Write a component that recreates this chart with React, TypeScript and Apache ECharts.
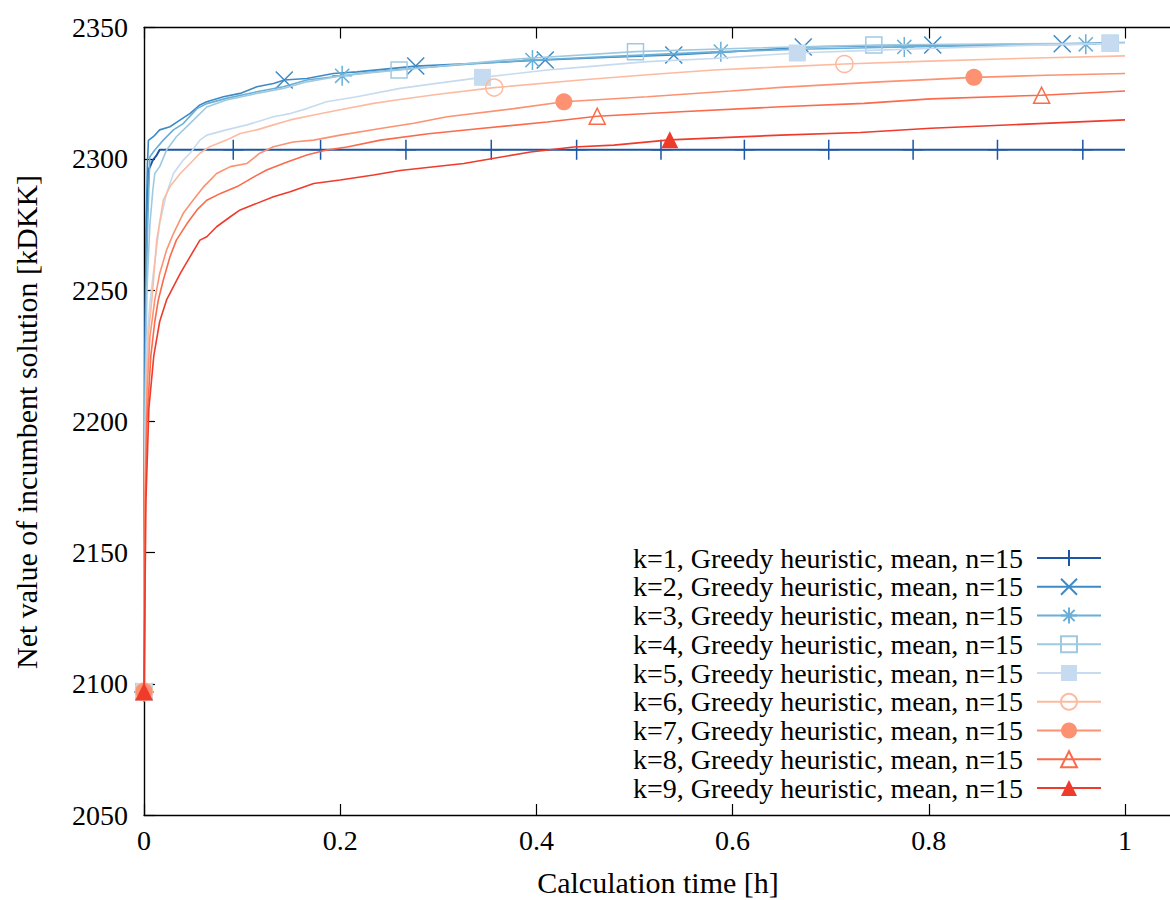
import React, { useEffect, useRef } from 'react';
import * as echarts from 'echarts';

// ---- axis ticks ----
const xTickValues = [0, 0.2, 0.4, 0.6, 0.8, 1];
const yTickValues = [2050, 2100, 2150, 2200, 2250, 2300, 2350];

const seriesNames = [
  'k=1, Greedy heuristic, mean, n=15',
  'k=2, Greedy heuristic, mean, n=15',
  'k=3, Greedy heuristic, mean, n=15',
  'k=4, Greedy heuristic, mean, n=15',
  'k=5, Greedy heuristic, mean, n=15',
  'k=6, Greedy heuristic, mean, n=15',
  'k=7, Greedy heuristic, mean, n=15',
  'k=8, Greedy heuristic, mean, n=15',
  'k=9, Greedy heuristic, mean, n=15',
];

// ---- data: [time h, value kDKK] ----
const k1 = [[0,2097],[0.001,2230],[0.003,2280],[0.005,2296],[0.009,2299.5],[0.013,2301.4],[0.016,2303.4],[0.091,2303.4],[0.180,2303.4],[0.267,2303.4],[0.354,2303.4],[0.441,2303.4],[0.527,2303.4],[0.612,2303.4],[0.698,2303.4],[0.784,2303.4],[0.870,2303.4],[0.957,2303.4],[1,2303.4]];
const k1Markers = [0,0.091,0.180,0.267,0.354,0.441,0.527,0.612,0.698,0.784,0.870,0.957];

const k2 = [[0,2097],[0.001,2220],[0.002,2270],[0.0035,2298],[0.0045,2307],[0.0095,2308.4],[0.016,2311],[0.0265,2312.2],[0.037,2314.8],[0.047,2317.3],[0.057,2320.5],[0.064,2321.7],[0.081,2323.6],[0.098,2324.9],[0.115,2327.4],[0.132,2328.7],[0.143,2330],[0.166,2330.6],[0.193,2332.5],[0.217,2333.1],[0.277,2335.3],[0.35,2336.6],[0.409,2337.6],[0.47,2338.6],[0.540,2339.5],[0.6,2340.8],[0.672,2342.6],[0.74,2343],[0.804,2343.3],[0.87,2343.5],[0.936,2343.8],[1,2344.3]];
const k2Markers = [0,0.143,0.277,0.409,0.540,0.672,0.804,0.936];

const k3 = [[0,2097],[0.001,2210],[0.003,2265],[0.005,2290],[0.006,2300.8],[0.011,2303.3],[0.0197,2307.1],[0.030,2311],[0.040,2313.4],[0.054,2319.1],[0.064,2321],[0.084,2323],[0.115,2325.5],[0.142,2327.4],[0.166,2330],[0.202,2331.6],[0.234,2333.1],[0.261,2334],[0.33,2336],[0.396,2337.6],[0.49,2339.2],[0.588,2340.8],[0.68,2341.8],[0.775,2342.6],[0.87,2343.2],[0.960,2343.6],[1,2344.2]];
const k3Markers = [0,0.202,0.396,0.588,0.775,0.960];

const k4 = [[0,2097],[0.001,2200],[0.003,2250],[0.006,2275],[0.009,2288],[0.011,2294.4],[0.016,2297],[0.023,2303.3],[0.033,2308.4],[0.047,2313.5],[0.064,2319.7],[0.084,2322.4],[0.115,2324.9],[0.142,2326.8],[0.166,2329.3],[0.200,2331.5],[0.234,2332.9],[0.260,2333.8],[0.38,2338],[0.501,2340.8],[0.62,2342.2],[0.744,2343.3],[0.86,2343.7],[0.985,2344],[1,2344.1]];
const k4Markers = [0,0.260,0.501,0.744,0.985];

const k5 = [[0,2097],[0.001,2190],[0.003,2230],[0.006,2245],[0.0095,2256.3],[0.016,2275.4],[0.023,2286.8],[0.030,2294.4],[0.040,2299.5],[0.047,2302.1],[0.057,2307.1],[0.064,2309],[0.084,2311],[0.105,2312.9],[0.132,2316],[0.149,2317.2],[0.166,2319.1],[0.186,2321.7],[0.217,2323.6],[0.261,2326.8],[0.30,2328.8],[0.345,2331],[0.411,2333.8],[0.45,2335],[0.513,2337],[0.581,2338.2],[0.666,2340.3],[0.74,2341.3],[0.8,2342],[0.9,2343.2],[0.985,2343.9],[1,2344]];
const k5Markers = [0,0.345,0.666,0.985];

const k6 = [[0,2097],[0.001,2180],[0.003,2220],[0.005,2235],[0.008,2246.2],[0.013,2269],[0.0197,2284.2],[0.0265,2289.4],[0.037,2294.4],[0.047,2298.2],[0.057,2302.1],[0.067,2304.6],[0.084,2307.1],[0.098,2309.6],[0.115,2311],[0.132,2312.9],[0.149,2314.8],[0.173,2316.7],[0.200,2318.7],[0.234,2321.1],[0.261,2322.6],[0.30,2324.6],[0.357,2327.1],[0.445,2330],[0.52,2332.2],[0.581,2333.8],[0.649,2335],[0.714,2336.1],[0.8,2337.2],[0.9,2338.3],[1,2339.2]];
const k6Markers = [0,0.357,0.714];

const k7 = [[0,2097],[0.001,2170],[0.003,2210],[0.006,2232],[0.011,2246.2],[0.016,2256.3],[0.023,2265.2],[0.030,2271.5],[0.040,2279.2],[0.050,2284.2],[0.061,2289.4],[0.074,2294.4],[0.088,2297],[0.105,2298.2],[0.118,2302.1],[0.132,2304.6],[0.152,2306.4],[0.173,2307.1],[0.200,2309],[0.241,2311.5],[0.275,2313.5],[0.309,2316],[0.377,2319.1],[0.428,2321.7],[0.513,2323.6],[0.598,2325.8],[0.649,2327.2],[0.75,2329.3],[0.846,2331],[0.92,2331.8],[1,2332.5]];
const k7Markers = [0,0.428,0.846];

const k8 = [[0,2097],[0.001,2160],[0.003,2200],[0.007,2225],[0.011,2238],[0.0146,2246.2],[0.0197,2253.8],[0.0265,2262.7],[0.033,2269],[0.044,2275.4],[0.054,2280.5],[0.064,2284.2],[0.078,2286.8],[0.095,2289.4],[0.112,2293.1],[0.125,2295.7],[0.146,2298.8],[0.166,2301.4],[0.186,2303.3],[0.207,2304.5],[0.241,2307.1],[0.290,2309.5],[0.343,2311.5],[0.411,2314],[0.462,2316.2],[0.547,2317.9],[0.649,2319.8],[0.734,2321.1],[0.802,2322.8],[0.915,2324.2],[1,2325.8]];
const k8Markers = [0,0.462,0.915];

const k9 = [[0,2097],[0.002,2170],[0.005,2205],[0.010,2225],[0.016,2238],[0.023,2246.2],[0.030,2251.3],[0.037,2256.3],[0.047,2262.7],[0.057,2269],[0.064,2270.3],[0.074,2274.1],[0.088,2277.9],[0.098,2280.5],[0.115,2283],[0.132,2285.5],[0.149,2287.4],[0.173,2290.6],[0.200,2291.9],[0.234,2293.8],[0.261,2295.5],[0.326,2298.2],[0.394,2302.6],[0.438,2304.5],[0.479,2305.2],[0.536,2307.2],[0.649,2309],[0.73,2310],[0.802,2311.6],[0.9,2313.2],[1,2314.8]];
const k9Markers = [0,0.536];

const allData = [k1, k2, k3, k4, k5, k6, k7, k8, k9];
const allMarkers = [k1Markers, k2Markers, k3Markers, k4Markers, k5Markers, k6Markers, k7Markers, k8Markers, k9Markers];

const colors = ['#1d56a2', '#3d8bc6', '#6baed6', '#9ecae1', '#c6dbef', '#fcbba1', '#fc9272', '#fb6a4a', '#ef3b2c'];

const PLUS = 'path://M0,-10L0,10M-10,0L10,0';
const CROSS = 'path://M-10,-10L10,10M-10,10L10,-10';
const STAR = 'path://M0,-10L0,10M-10,0L10,0M-7.07,-7.07L7.07,7.07M-7.07,7.07L7.07,-7.07';

// marker: symbol, size, hollow(stroke only)
const markerStyles: [string, number, boolean][] = [
  [PLUS, 20, true],
  [CROSS, 17, true],
  [STAR, 20, true],
  ['rect', 16, true],
  ['rect', 17, false],
  ['circle', 17, true],
  ['circle', 17, false],
  ['triangle', 16, true],
  ['triangle', 17, false],
];

const FONT = '"Liberation Serif", "Times New Roman", serif';

// plot geometry
const X0 = 144;
const PX_PER_X = 981;
const X_MAX = 1.2;
const Y_TOP = 27.5;
const Y_BOTTOM = 815;
const CHART_W = 1340;
const CHART_H = 900;

function buildData(points: number[][], markers: number[]) {
  return points.map(([x, y]) => {
    const isMarker = markers.some((m) => Math.abs(m - x) < 1e-9);
    return isMarker ? { value: [x, y] } : { value: [x, y], symbol: 'none' };
  });
}

export default function App() {
  const ref = useRef<HTMLDivElement>(null);

  useEffect(() => {
    if (!ref.current) return;
    const chart = echarts.init(ref.current, null, { renderer: 'svg' });

    const series = allData.map((pts, i) => {
      const [sym, size, hollow] = markerStyles[i];
      const c = colors[i];
      return {
        name: seriesNames[i],
        type: 'line',
        data: buildData(pts, allMarkers[i]),
        symbol: sym,
        symbolSize: size,
        showSymbol: true,
        showAllSymbol: true,
        lineStyle: { color: c, width: i === 0 ? 2 : 1.6 },
        itemStyle: hollow
          ? { color: 'rgba(0,0,0,0)', borderColor: c, borderWidth: 1.5 }
          : { color: c, borderColor: c, borderWidth: 0 },
        emphasis: { disabled: true },
        z: 2 + i,
      };
    });

    const axisLine = { show: true, lineStyle: { color: '#000', width: 1.4 } };
    const tickStyle = { show: true, inside: true, length: 11, lineStyle: { color: '#000', width: 1.2 } };

    chart.setOption({
      animation: false,
      grid: {
        left: X0,
        top: Y_TOP,
        width: PX_PER_X * X_MAX,
        height: Y_BOTTOM - Y_TOP,
      },
      xAxis: [
        {
          type: 'value',
          position: 'bottom',
          min: 0,
          max: X_MAX,
          interval: 0.2,
          axisLine,
          axisTick: tickStyle,
          splitLine: { show: false },
          axisLabel: {
            margin: 11,
            fontSize: 28,
            fontFamily: FONT,
            color: '#000',
            formatter: (v: number) => {
              const hit = xTickValues.find((t) => Math.abs(t - v) < 1e-6);
              if (hit === undefined) return '';
              return hit === 0 ? '0' : hit === 1 ? '1' : hit.toFixed(1);
            },
          },
        },
        {
          type: 'value',
          position: 'top',
          min: 0,
          max: X_MAX,
          interval: 0.2,
          axisLine,
          axisTick: tickStyle,
          splitLine: { show: false },
          axisLabel: { show: false },
        },
      ],
      yAxis: {
        type: 'value',
        min: 2050,
        max: 2350,
        interval: 50,
        axisLine,
        axisTick: tickStyle,
        splitLine: { show: false },
        axisLabel: {
          margin: 16,
          fontSize: 28,
          fontFamily: FONT,
          color: '#000',
          padding: [0, 0, 8, 0],
          formatter: (v: number) => (yTickValues.includes(v) ? String(v) : ''),
        },
      },
      legend: {
        orient: 'vertical',
        align: 'right',
        right: CHART_W - 1102,
        top: 544,
        padding: 0,
        itemWidth: 64,
        itemHeight: 20,
        itemGap: 0.75,
        selectedMode: false,
        textStyle: {
          fontSize: 28,
          fontFamily: FONT,
          color: '#000',
          lineHeight: 28,
          padding: [0, 9, 0, 0],
        },
        data: seriesNames,
      },
      graphic: [
        {
          type: 'text',
          x: 658,
          y: 882,
          style: {
            text: 'Calculation time [h]',
            fontSize: 30,
            fontFamily: FONT,
            fill: '#000',
            align: 'center',
            verticalAlign: 'middle',
          },
        },
        {
          type: 'text',
          x: 26,
          y: 422,
          rotation: Math.PI / 2,
          style: {
            text: 'Net value of incumbent solution [kDKK]',
            fontSize: 30,
            fontFamily: FONT,
            fill: '#000',
            align: 'center',
            verticalAlign: 'middle',
          },
        },
      ],
      series,
    });

    return () => chart.dispose();
  }, []);

  return (
    <div style={{ position: 'fixed', left: 0, top: 0, width: 1170, height: 900, overflow: 'hidden', background: '#fff' }}>
      <div ref={ref} style={{ width: CHART_W, height: CHART_H }} />
    </div>
  );
}
